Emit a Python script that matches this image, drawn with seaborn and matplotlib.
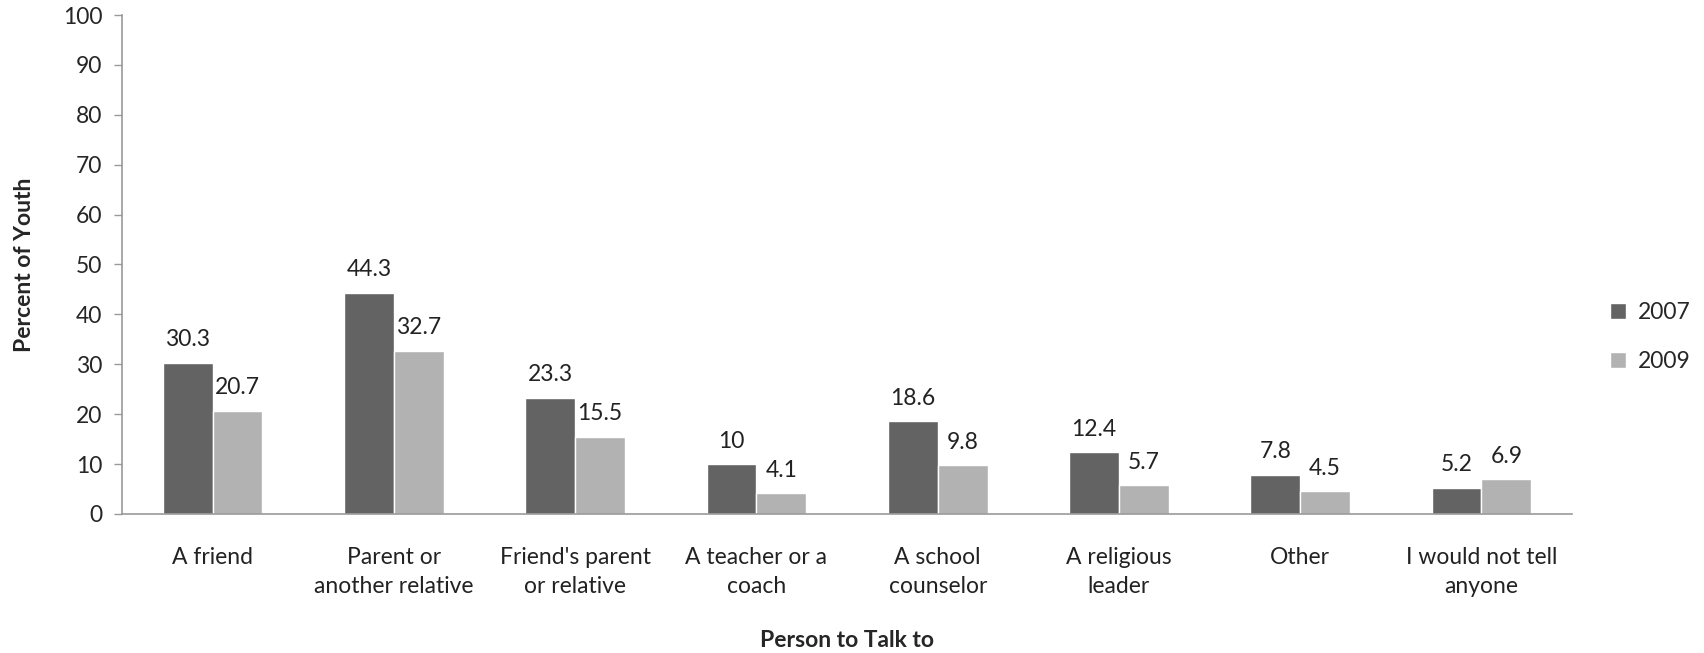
import pandas as pd
import numpy as np
import matplotlib.pyplot as plt
import seaborn as sns

categories = ["A friend", "Parent or\nanother relative", "Friend's parent\nor relative",
              "A teacher or a\ncoach", "A school\ncounselor", "A religious\nleader",
              "Other", "I would not tell\nanyone"]
values_2007 = [30.3, 44.3, 23.3, 10, 18.6, 12.4, 7.8, 5.2]
values_2009 = [20.7, 32.7, 15.5, 4.1, 9.8, 5.7, 4.5, 6.9]
years = ["2007", "2009"]

df = pd.DataFrame({
    "person": categories * 2,
    "value": values_2007 + values_2009,
    "year": [years[0]] * len(categories) + [years[1]] * len(categories),
})

sns.set_style("white")
plt.rcParams['font.family'] = ['Lato', 'DejaVu Sans']

fig = plt.figure(figsize=(17.04, 6.53), dpi=100)
ax = fig.add_axes([0.0716, 0.213, 0.851, 0.764])

sns.barplot(data=df, x="person", y="value", hue="year",
            palette=["#636363", "#b2b2b2"], width=0.55, gap=0,
            saturation=1, ax=ax)

for cont in ax.containers:
    ax.bar_label(cont, labels=[f"{v:g}" for v in cont.datavalues],
                 padding=9, fontsize=16.5, color="#222222")

ax.set_ylim(0, 100)
ax.set_yticks(range(0, 101, 10))
ax.set_xlim(-0.5, len(categories) - 0.5)
ax.tick_params(axis='y', length=6, width=1, color="#999999", labelsize=16.5, pad=8, direction='out', left=True)
ax.tick_params(axis='x', length=0, labelsize=16.5, pad=24, colors="#222222")
plt.setp(ax.get_xticklabels(), linespacing=1.45, va="top")
for s in ["top", "right"]:
    ax.spines[s].set_visible(False)
for s in ["left", "bottom"]:
    ax.spines[s].set_color("#999999")
    ax.spines[s].set_linewidth(1.2)

ax.set_xlabel("Person to Talk to", fontsize=16.5, fontweight="bold", labelpad=24)
ax.set_ylabel("Percent of Youth", fontsize=16.5, fontweight="bold", labelpad=20)

ax.legend(loc="center left", bbox_to_anchor=(1.02, 0.355), frameon=False,
          fontsize=16.5, handlelength=0.7, handleheight=0.7, handletextpad=0.5,
          labelspacing=1.2, borderaxespad=0)

fig.savefig("out.png", dpi=100)
